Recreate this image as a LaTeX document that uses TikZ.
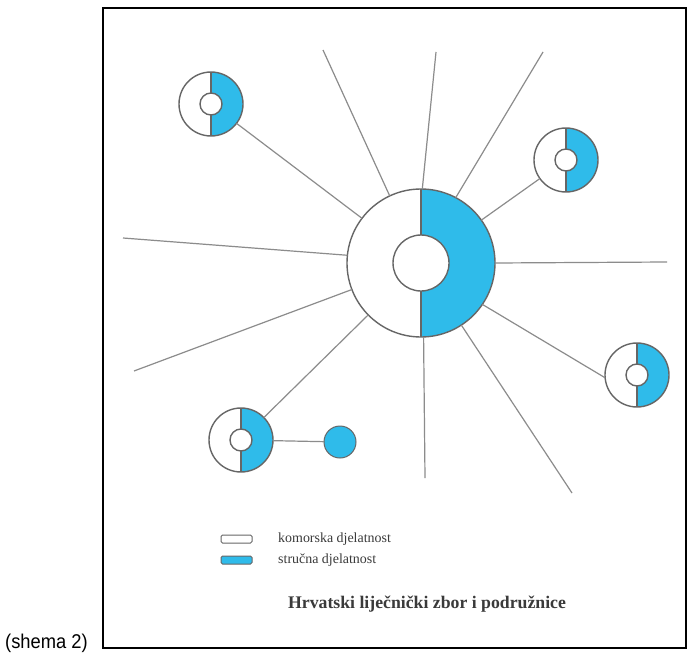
\documentclass[tikz,border=0pt]{standalone}
\usepackage{fontspec}
\setmainfont{Liberation Serif}
\newfontfamily\capfont[FakeStretch=0.92]{Liberation Sans}
\definecolor{cyanb}{HTML}{2FBBEA}
\definecolor{ringgray}{HTML}{666666}
\definecolor{linegray}{HTML}{8C8C8C}
\definecolor{txtgray}{HTML}{3A3A3A}
\newcommand\ringat[5]{%
  \node[ringnode, minimum size=2*#4 bp] (#1) at (#2,#3) {};
  \fill[cyanb] (#2,#3-#4) arc[start angle=-90, end angle=90, radius=#4] -- cycle;
  \draw[outl] (#2,#3) circle[radius=#4];
  \draw[outl] (#2,#3-#4) -- (#2,#3+#4);
  \draw[outl, fill=white] (#2,#3) circle[radius=#5];
}
\begin{document}
\begin{tikzpicture}[x=1bp,y=-1bp,
  ringnode/.style={circle, inner sep=0pt, outer sep=0pt, fill=white},
  conn/.style={draw=linegray, line width=1.2bp},
  outl/.style={draw=ringgray, line width=1.4bp},
  legbox/.style={draw=ringgray, line width=1bp, minimum width=31bp, minimum height=8bp, inner sep=0pt, rounded corners=1.5bp},
  legtext/.style={font=\fontsize{14}{16}\selectfont, text=txtgray, anchor=west, inner sep=0pt}
]
\useasboundingbox (0,0) rectangle (692,656);
\fill[white] (0,0) rectangle (692,656);
\draw[line width=1.5bp] (103,8) rectangle (686,648);

% rings
\ringat{big}{421}{263}{74}{28}
\ringat{tl}{211}{104}{32}{11}
\ringat{tr}{566}{160}{32}{11}
\ringat{rr}{637}{375}{32}{11}
\ringat{bl}{241}{440}{32}{11}
\node[circle, fill=cyanb, draw=ringgray, line width=1bp, minimum size=32bp, inner sep=0pt, outer sep=0pt] (dot) at (340,442) {};

% free ends
\coordinate (e1) at (123,238);
\coordinate (e2) at (134,371);
\coordinate (e3) at (323,50);
\coordinate (e4) at (436,52);
\coordinate (e5) at (543,52);
\coordinate (e6) at (667,262);
\coordinate (e7) at (425,478);
\coordinate (e8) at (572,493);

\draw[conn] (big.174) -- (e1);
\draw[conn] (big.201) -- (e2);
\draw[conn] (big.115) -- (e3);
\draw[conn] (big.89) -- (e4);
\draw[conn] (big.62) -- (e5);
\draw[conn] (big.east) -- (e6);
\draw[conn] (big.272) -- (e7);
\draw[conn] (big.303) -- (e8);
\draw[conn] (big) -- (tl);
\draw[conn] (big) -- (tr);
\draw[conn] (big.326) -- (rr.185);
\draw[conn] (big) -- (bl);
\draw[conn] (bl) -- (dot);

% legend
\node[legbox, fill=white] (k1) at (236.5,539) {};
\node[legbox, fill=cyanb] (k2) at (236.5,560) {};
\node[legtext] (l1) at (278,539) {komorska djelatnost};
\node[legtext] (l2) at (278,560) {stručna djelatnost};

\node[font=\bfseries\fontsize{17.8}{20}\selectfont, text=txtgray] (title) at (427,604) {Hrvatski liječnički zbor i podružnice};
\node[font=\capfont\fontsize{20}{22}\selectfont, anchor=base west, inner sep=0pt] (cap) at (5,648) {(shema 2)};
\end{tikzpicture}
\end{document}
